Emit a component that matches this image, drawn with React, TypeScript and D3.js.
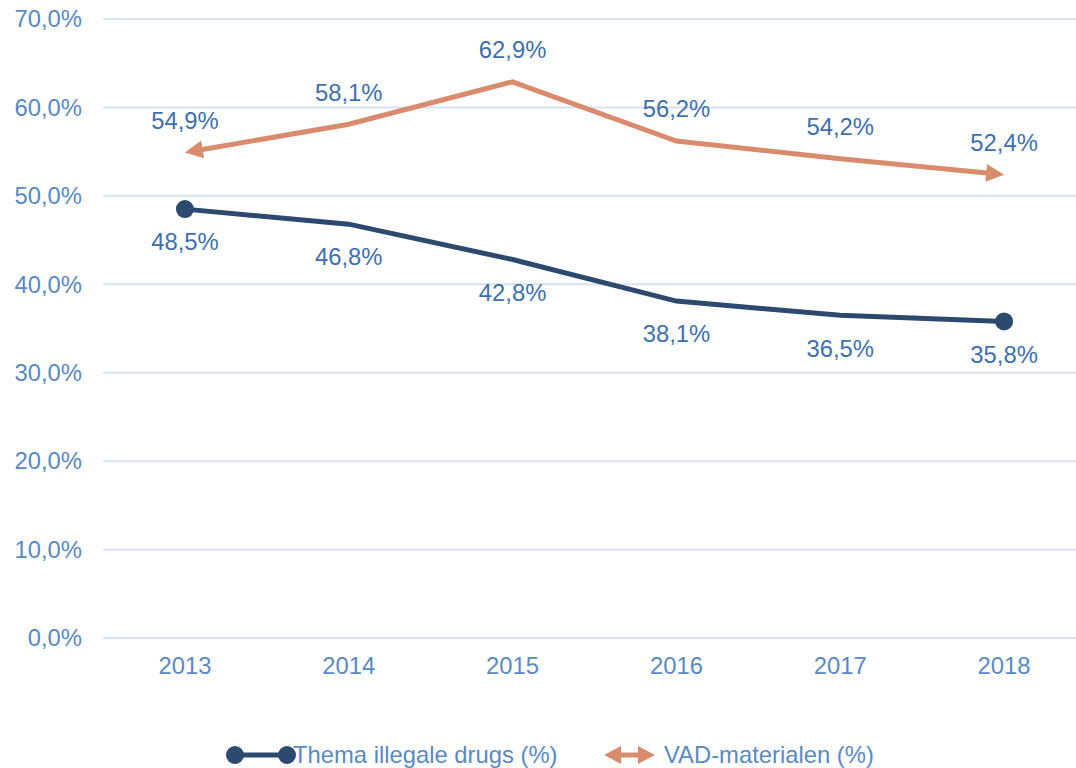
import * as d3 from "d3";
import React from "react";

// chart data
const years = ["2013", "2014", "2015", "2016", "2017", "2018"];
const drugs = [48.5, 46.8, 42.8, 38.1, 36.5, 35.8];
const vad = [54.9, 58.1, 62.9, 56.2, 54.2, 52.4];
const yTicks = [0, 10, 20, 30, 40, 50, 60, 70];
const seriesNames = ["Thema illegale drugs (%)", "VAD-materialen (%)"];

const WIDTH = 1076;
const HEIGHT = 768;
const DARK = "#2C4A6E";
const ORANGE = "#D98C6D";
const TICK_COLOR = "#5A8AC4";
const LABEL_COLOR = "#3E70AE";
const FONT = "'Liberation Sans', Arial, sans-serif";
const FS = 23.8;

const fmt = (v: number) => v.toFixed(1).replace(".", ",") + "%";

function arrowHead(tip: [number, number], from: [number, number], len = 18, half = 9) {
  const dx = tip[0] - from[0];
  const dy = tip[1] - from[1];
  const l = Math.hypot(dx, dy);
  const ux = dx / l, uy = dy / l;
  const bx = tip[0] - ux * len, by = tip[1] - uy * len;
  const px = -uy * half, py = ux * half;
  return `M${tip[0]},${tip[1]}L${bx + px},${by + py}L${bx - px},${by - py}Z`;
}

export default function App() {
  const x = d3.scaleBand().domain(years).range([103, 1086]);
  const cx = (d: string) => (x(d) as number) + x.bandwidth() / 2;
  const y = d3.scaleLinear().domain([0, 70]).range([638, 19]);

  const line = d3.line<[number, number]>().x(d => d[0]).y(d => d[1]);

  const drugPts: [number, number][] = years.map((d, i) => [cx(d), y(drugs[i])]);
  const vadPts: [number, number][] = years.map((d, i) => [cx(d), y(vad[i])]);

  // shorten orange line so arrow tips stay sharp
  const shorten = (pts: [number, number][], by: number) => {
    const out = pts.map(p => [p[0], p[1]] as [number, number]);
    const move = (a: [number, number], b: [number, number]) => {
      const dx = b[0] - a[0], dy = b[1] - a[1];
      const l = Math.hypot(dx, dy);
      return [a[0] + dx / l * by, a[1] + dy / l * by] as [number, number];
    };
    out[0] = move(pts[0], pts[1]);
    out[out.length - 1] = move(pts[pts.length - 1], pts[pts.length - 2]);
    return out;
  };
  const vadLine = shorten(vadPts, 12);
  const n = vadPts.length;

  return (
    <div>
      <style>{`body{margin:0}`}</style>
      <svg width={WIDTH} height={HEIGHT} style={{ display: "block", fontFamily: FONT }}>
        {/* grid + y axis */}
        {yTicks.map(t => (
          <g key={t}>
            <line x1={103} x2={1086} y1={y(t)} y2={y(t)} stroke="#D9E3EF" strokeWidth={2} />
            <text x={82} y={y(t)} dy="0.35em" textAnchor="end" fontSize={FS} fill={TICK_COLOR}>
              {fmt(t)}
            </text>
          </g>
        ))}

        {/* x axis labels */}
        {years.map(d => (
          <text key={d} x={cx(d)} y={666} dy="0.35em" textAnchor="middle" fontSize={FS} fill={TICK_COLOR}>
            {d}
          </text>
        ))}

        {/* VAD line with arrows */}
        <path d={line(vadLine) || ""} fill="none" stroke={ORANGE} strokeWidth={5} strokeLinejoin="miter" />
        <path d={arrowHead(vadPts[0], vadPts[1])} fill={ORANGE} />
        <path d={arrowHead(vadPts[n - 1], vadPts[n - 2])} fill={ORANGE} />

        {/* drugs line with end dots */}
        <path d={line(drugPts) || ""} fill="none" stroke={DARK} strokeWidth={5} />
        <circle cx={drugPts[0][0]} cy={drugPts[0][1]} r={9} fill={DARK} />
        <circle cx={drugPts[drugPts.length - 1][0]} cy={drugPts[drugPts.length - 1][1]} r={9} fill={DARK} />

        {/* data labels */}
        {years.map((d, i) => (
          <text key={"v" + d} x={cx(d)} y={y(vad[i]) - 32} dy="0.35em" textAnchor="middle" fontSize={FS} fill={LABEL_COLOR}>
            {fmt(vad[i])}
          </text>
        ))}
        {years.map((d, i) => (
          <text key={"d" + d} x={cx(d)} y={y(drugs[i]) + 33} dy="0.35em" textAnchor="middle" fontSize={FS} fill={LABEL_COLOR}>
            {fmt(drugs[i])}
          </text>
        ))}

        {/* legend */}
        <g>
          <line x1={235} x2={287} y1={755} y2={755} stroke={DARK} strokeWidth={5} />
          <circle cx={235} cy={755} r={9} fill={DARK} />
          <circle cx={287} cy={755} r={9} fill={DARK} />
          <text x={293} y={755} dy="0.35em" fontSize={FS} fill={TICK_COLOR}>{seriesNames[0]}</text>

          <line x1={616} x2={643} y1={755} y2={755} stroke={ORANGE} strokeWidth={5} />
          <path d={arrowHead([604, 755], [655, 755], 17, 9)} fill={ORANGE} />
          <path d={arrowHead([655, 755], [604, 755], 17, 9)} fill={ORANGE} />
          <text x={664} y={755} dy="0.35em" fontSize={FS} fill={TICK_COLOR}>{seriesNames[1]}</text>
        </g>
      </svg>
    </div>
  );
}
